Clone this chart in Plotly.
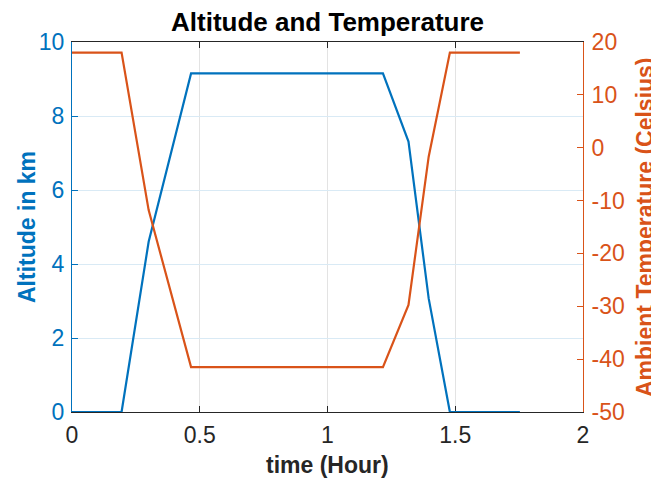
import plotly.graph_objects as go

time_hr = [0, 0.194, 0.300, 0.466, 1.217, 1.317, 1.396, 1.479, 1.753]
altitude_km = [0, 0, 4.6, 9.15, 9.15, 7.31, 3.07, 0, 0]
temperature_c = [18, 18, -11.8, -41.5, -41.5, -29.75, -1.7, 18, 18]

x_ticks = [0, 0.5, 1, 1.5, 2]
x_tick_text = ["0", "0.5", "1", "1.5", "2"]
alt_ticks = [0, 2, 4, 6, 8, 10]
alt_tick_text = ["0", "2", "4", "6", "8", "10"]
temp_ticks = [-50, -40, -30, -20, -10, 0, 10, 20]
temp_tick_text = ["-50", "-40", "-30", "-20", "-10", "0", "10", "20"]

BLUE = "#0072BD"
ORANGE = "#D95319"
DARK = "#262626"
FONT = "Liberation Sans, Arial, Helvetica, sans-serif"

# page body has an 8px margin, so the figure is drawn 8px in from the window corner
OFF = 8
W, H = 659 - OFF, 481 - OFF
L, T = 72 - OFF, 42 - OFF
PW, PH = 511, 370
R, B = W - L - PW, H - T - PH


def px_x(wx):
    return (wx - OFF - L) / PW


def px_y(wy):
    return (T + PH - (wy - OFF)) / PH


fig = go.Figure()
fig.add_trace(go.Scatter(x=time_hr, y=altitude_km, mode="lines",
                         line=dict(color=BLUE, width=2.2), yaxis="y", showlegend=False,
                         cliponaxis=False))
fig.add_trace(go.Scatter(x=time_hr, y=temperature_c, mode="lines",
                         line=dict(color=ORANGE, width=2.2), yaxis="y2", showlegend=False,
                         cliponaxis=False))

fig.update_layout(
    width=W, height=H,
    margin=dict(l=L, r=R, t=T, b=B, autoexpand=False),
    paper_bgcolor="white", plot_bgcolor="white",
    font=dict(family=FONT, size=23, color=DARK),
    xaxis=dict(range=[0, 2], tickvals=x_ticks, ticktext=x_tick_text,
               showline=True, linecolor=DARK, linewidth=1, mirror="ticks",
               ticks="inside", ticklen=6, tickcolor=DARK, layer="below traces",
               showgrid=True, gridcolor="#E3E3E3", gridwidth=1, zeroline=False,
               automargin=False, ticklabelstandoff=2,
               tickfont=dict(size=23, color=DARK)),
    yaxis=dict(range=[0, 10], tickvals=alt_ticks, ticktext=alt_tick_text,
               showline=True, linecolor=BLUE, linewidth=1,
               ticks="inside", ticklen=6, tickcolor=BLUE, layer="below traces",
               showgrid=True, gridcolor="#D9EAF5", gridwidth=1, zeroline=False,
               automargin=False, ticklabelstandoff=2,
               tickfont=dict(size=23, color=BLUE)),
    yaxis2=dict(range=[-50, 20], tickvals=temp_ticks, ticktext=temp_tick_text,
                overlaying="y", side="right",
                showline=True, linecolor=ORANGE, linewidth=1,
                ticks="inside", ticklen=6, tickcolor=ORANGE, layer="below traces",
                showgrid=False, zeroline=False, automargin=False, ticklabelstandoff=3,
                tickfont=dict(size=23, color=ORANGE)),
    annotations=[
        dict(text="<b>Altitude and Temperature</b>", xref="paper", yref="paper",
             x=0.5, y=px_y(22), xanchor="center", yanchor="middle",
             showarrow=False, font=dict(family=FONT, size=26, color="black")),
        dict(text="<b>time (Hour)</b>", xref="paper", yref="paper",
             x=0.5, y=px_y(465), xanchor="center", yanchor="middle",
             showarrow=False, font=dict(family=FONT, size=23, color=DARK)),
        dict(text="<b>Altitude in km</b>", xref="paper", yref="paper",
             x=px_x(27), y=0.5, xanchor="center", yanchor="middle", textangle=-90,
             showarrow=False, font=dict(family=FONT, size=23, color=BLUE)),
        dict(text="<b>Ambient Temperature (Celsius)</b>", xref="paper", yref="paper",
             x=px_x(645), y=0.5, xanchor="center", yanchor="middle", textangle=-90,
             showarrow=False, font=dict(family=FONT, size=23, color=ORANGE)),
    ],
)

fig.write_html("out.html")
